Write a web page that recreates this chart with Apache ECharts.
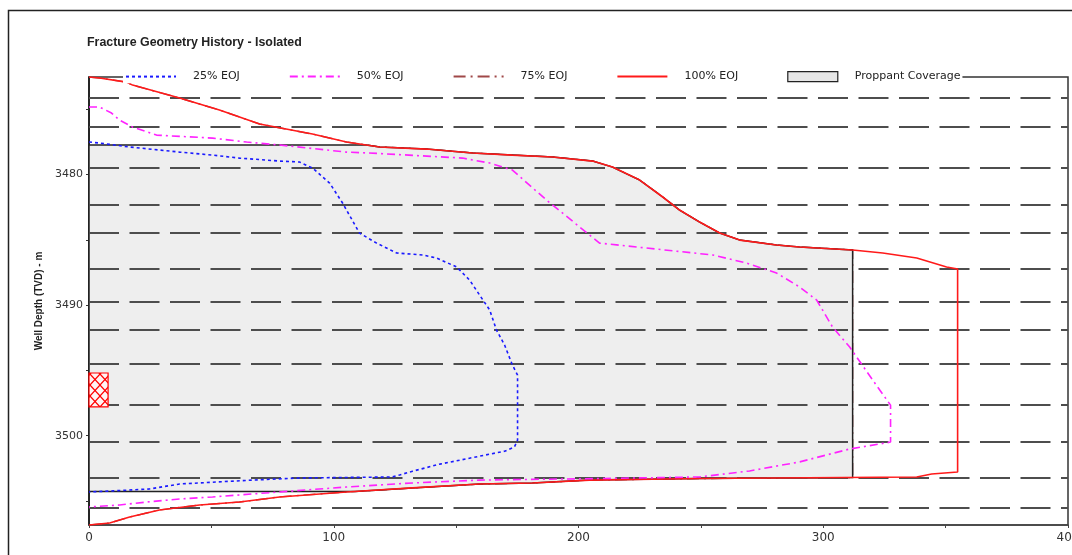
<!DOCTYPE html>
<html>
<head>
<meta charset="utf-8">
<script src="https://cdn.jsdelivr.net/npm/echarts@6/dist/echarts.min.js"></script>
<style>
  html, body { margin: 0; padding: 0; background: #fff; }
  #chart { width: 1072px; height: 555px; }
</style>
</head>
<body>
<div id="chart"></div>
<script>
// Fracture half-length (m) against true vertical depth (m) at fractions of end of job.
const eoj25 = [
  [0, 3477.51], [4.3, 3477.59], [16.6, 3477.89], [37.0, 3478.28], [50.5, 3478.51],
  [61.5, 3478.74], [77.9, 3478.97], [86.0, 3479.04], [91.3, 3479.50], [98.3, 3480.65],
  [103.6, 3482.18], [110.5, 3484.48], [117.5, 3485.25], [125.7, 3486.01], [136.3, 3486.16],
  [142.0, 3486.39], [150.2, 3487.08], [155.5, 3488.08], [159.6, 3489.23], [163.7, 3490.37],
  [166.5, 3491.91], [169.8, 3493.06], [173.0, 3494.59], [175.1, 3495.36], [175.1, 3500.34],
  [173.8, 3500.87], [169.8, 3501.19], [159.6, 3501.57], [143.3, 3502.18], [132.2, 3502.72],
  [126.9, 3503.01], [124.0, 3503.16], [86.0, 3503.24], [66.8, 3503.40], [37.0, 3503.70],
  [24.7, 3504.08], [9.6, 3504.23], [0, 3504.31]
];

const eoj50 = [
  [0, 3474.83], [4.3, 3474.83], [9.2, 3475.29], [12.5, 3475.83], [17.8, 3476.36],
  [27.6, 3476.98], [50.5, 3477.21], [64.4, 3477.51], [77.9, 3477.74], [105.2, 3478.28],
  [118.7, 3478.39], [152.6, 3478.74], [163.7, 3479.12], [173.0, 3479.66], [186.9, 3481.95],
  [200.5, 3484.02], [208.6, 3485.25], [227.8, 3485.63], [254.8, 3486.16], [268.7, 3486.78],
  [280.9, 3487.54], [290.3, 3488.61], [297.3, 3489.61], [303.8, 3491.68], [310.8, 3493.21],
  [320.2, 3495.74], [327.5, 3497.66], [327.5, 3500.49], [310.8, 3501.02], [290.3, 3502.01],
  [269.9, 3502.70], [249.5, 3503.16], [208.6, 3503.28], [159.6, 3503.40], [132.2, 3503.62],
  [105.2, 3503.93], [77.9, 3504.31], [50.5, 3504.69], [37.0, 3504.85], [23.5, 3505.08],
  [12.5, 3505.31], [0, 3505.46]
];

const eoj75 = [
  [0, 3472.53], [4.3, 3472.61], [15.3, 3472.92], [17.8, 3473.15], [37.0, 3474.14],
  [53.3, 3475.06], [69.7, 3476.13], [91.3, 3476.90], [105.2, 3477.51], [118.7, 3477.89],
  [137.9, 3478.05], [156.7, 3478.35], [173.0, 3478.51], [189.4, 3478.66], [205.8, 3478.97],
  [213.9, 3479.43], [225.0, 3480.42], [234.4, 3481.72], [241.3, 3482.72], [249.5, 3483.64],
  [257.7, 3484.48], [265.9, 3485.02], [280.9, 3485.40], [290.3, 3485.55], [312.0, 3485.78],
  [312.0, 3503.20], [249.5, 3503.28], [204.5, 3503.40], [181.2, 3503.62], [159.6, 3503.70],
  [132.2, 3504.00], [105.2, 3504.31], [77.9, 3504.69], [61.5, 3505.08], [45.2, 3505.31],
  [28.8, 3505.69], [16.6, 3506.23], [8.4, 3506.69], [0, 3506.84]
];

const eoj100 = [
  [0, 3472.53], [4.3, 3472.61], [15.3, 3472.92], [17.8, 3473.15], [37.0, 3474.14],
  [53.3, 3475.06], [69.7, 3476.13], [91.3, 3476.90], [105.2, 3477.51], [118.7, 3477.89],
  [137.9, 3478.05], [156.7, 3478.35], [173.0, 3478.51], [189.4, 3478.66], [205.8, 3478.97],
  [213.9, 3479.43], [225.0, 3480.42], [234.4, 3481.72], [241.3, 3482.72], [249.5, 3483.64],
  [257.7, 3484.48], [265.9, 3485.02], [280.9, 3485.40], [290.3, 3485.55], [312.0, 3485.78],
  [324.3, 3486.01], [338.2, 3486.39], [350.4, 3487.08], [354.9, 3487.24], [354.9, 3502.78],
  [344.3, 3502.93], [338.2, 3503.16], [249.5, 3503.28], [204.5, 3503.40], [181.2, 3503.62],
  [159.6, 3503.70], [132.2, 3504.00], [105.2, 3504.31], [77.9, 3504.69], [61.5, 3505.08],
  [45.2, 3505.31], [28.8, 3505.69], [16.6, 3506.23], [8.4, 3506.69], [0, 3506.84]
];

// Propped part of the final fracture: limited in length and depth interval.
const proppantLength = 312.0;
const proppantTop = 3477.74;
const proppantBottom = 3504.27;

// Perforated interval.
const perfTop = 3495.2;
const perfBottom = 3497.8;
const perfWidth = 7.8;

// Layer boundaries (depth, m).
const layerBoundaries = [
  3474.14, 3476.36, 3479.50, 3482.34, 3484.44, 3487.20, 3489.72,
  3491.87, 3494.51, 3497.61, 3500.48, 3503.20, 3505.54
];

const xTickValues = [0, 50, 100, 150, 200, 250, 300, 350, 400];
const xLabelValues = [0, 100, 200, 300, 400];
const yTickValues = [3475, 3480, 3485, 3490, 3495, 3500, 3505];
const yLabelValues = [3480, 3490, 3500];
const depthMin = 3472.53;
const depthMax = 3506.84;

// Clip the 100% EOJ outline (closed along the wellbore) to the propped box.
function clipPolygon(poly, inside, cross) {
  const out = [];
  for (let i = 0; i < poly.length; i++) {
    const cur = poly[i];
    const prev = poly[(i + poly.length - 1) % poly.length];
    const cIn = inside(cur), pIn = inside(prev);
    if (cIn) {
      if (!pIn) out.push(cross(prev, cur));
      out.push(cur);
    } else if (pIn) {
      out.push(cross(prev, cur));
    }
  }
  return out;
}
function crossX(x) {
  return (a, b) => { const t = (x - a[0]) / (b[0] - a[0]); return [x, a[1] + t * (b[1] - a[1])]; };
}
function crossY(y) {
  return (a, b) => { const t = (y - a[1]) / (b[1] - a[1]); return [a[0] + t * (b[0] - a[0]), y]; };
}
let proppantPoly = eoj100.slice();
proppantPoly = clipPolygon(proppantPoly, p => p[0] <= proppantLength, crossX(proppantLength));
proppantPoly = clipPolygon(proppantPoly, p => p[1] >= proppantTop, crossY(proppantTop));
proppantPoly = clipPolygon(proppantPoly, p => p[1] <= proppantBottom, crossY(proppantBottom));

// Red cross-hatch for the perforation marker.
function hatchPattern() {
  const c = document.createElement('canvas');
  c.width = 10; c.height = 11;
  const g = c.getContext('2d');
  g.fillStyle = '#fff4f4';
  g.fillRect(0, 0, 10, 11);
  g.strokeStyle = '#ff0000';
  g.lineWidth = 1.2;
  g.beginPath();
  g.moveTo(0, 0); g.lineTo(10, 11);
  g.moveTo(10, 0); g.lineTo(0, 11);
  g.stroke();
  return c;
}
const hatch = hatchPattern();

const chart = echarts.init(document.getElementById('chart'), null, { renderer: 'canvas' });

const lineSeries = (name, data, color, type, width, z) => ({
  name, type: 'line', data, z,
  symbol: 'none', showSymbol: false, smooth: false,
  lineStyle: { color, type, width },
  itemStyle: { color },
  emphasis: { disabled: true },
  silent: true
});

// Legend entries for the profiles show only the line pattern.
const lineLegend = name => ({ name, itemStyle: { color: 'rgba(0,0,0,0)', borderWidth: 0 } });

chart.setOption({
  animation: false,
  backgroundColor: '#ffffff',
  title: {
    text: 'Fracture Geometry History - Isolated',
    left: 82, top: 32,
    textStyle: { fontFamily: 'Liberation Sans', fontSize: 12.4, fontWeight: 'bold', color: '#222' }
  },
  legend: {
    left: 123, top: 70,
    itemWidth: 50, itemHeight: 10, itemGap: 49,
    padding: [1, 2],
    backgroundColor: '#ffffff',
    selectedMode: false,
    textStyle: { fontFamily: 'DejaVu Sans', fontSize: 11, color: '#222', padding: [0, 0, 0, 12] },
    data: [
      lineLegend('25% EOJ'),
      lineLegend('50% EOJ'),
      lineLegend('75% EOJ'),
      lineLegend('100% EOJ'),
      { name: 'Proppant Coverage', icon: 'rect',
        itemStyle: { color: '#e6e6e6', borderColor: '#222', borderWidth: 1.2 } }
    ]
  },
  grid: {
    left: 89, top: 77, right: 4, bottom: 30,
    outerBoundsMode: 'none', containLabel: false,
    show: true, borderColor: '#333', borderWidth: 1.5, backgroundColor: 'transparent'
  },
  xAxis: {
    type: 'value', min: 0, max: 400,
    axisLine: { show: true, lineStyle: { color: '#444', width: 1.5 } },
    axisTick: { show: true, customValues: xTickValues, length: 3, lineStyle: { color: '#444' } },
    axisLabel: { customValues: xLabelValues, formatter: v => String(v), fontFamily: 'DejaVu Sans', fontSize: 12, color: '#333', margin: 7, hideOverlap: false },
    splitLine: { show: false }
  },
  yAxis: {
    type: 'value', inverse: true, min: depthMin, max: depthMax,
    name: 'Well Depth (TVD) - m',
    nameLocation: 'middle', nameGap: 45, nameRotate: 90,
    nameTextStyle: { fontFamily: 'Liberation Sans', fontSize: 10, fontWeight: 'bold', color: '#222' },
    axisLine: { show: true, lineStyle: { color: '#111', width: 1.5 } },
    axisTick: { show: true, customValues: yTickValues, length: 3, lineStyle: { color: '#333' } },
    axisLabel: { customValues: yLabelValues, formatter: v => String(v), fontFamily: 'DejaVu Sans', fontSize: 11, color: '#333', margin: 6 },
    splitLine: { show: false }
  },
  graphic: [{
    type: 'rect', silent: true,
    shape: { x: 8.5, y: 10.5, width: 1100, height: 600 },
    style: { fill: 'none', stroke: '#222', lineWidth: 1.5 }
  }],
  series: [
    lineSeries('75% EOJ', eoj75, '#a04848', [12, 5, 2, 5], 1.4, 0.5),
    {
      name: 'Proppant Coverage', type: 'custom', z: 1, silent: true,
      data: [[0, proppantTop]],
      encode: { x: 0, y: 1 },
      itemStyle: { color: '#e6e6e6', borderColor: '#222', borderWidth: 1.2 },
      renderItem: (params, api) => ({
        type: 'polygon',
        shape: { points: proppantPoly.map(p => api.coord(p)) },
        style: { fill: '#eeeeee', stroke: '#222', lineWidth: 1.5 }
      }),
      markLine: {
        silent: true, z: 2,
        symbol: ['none', 'none'],
        label: { show: false },
        emphasis: { disabled: true },
        lineStyle: { color: '#4d4d4d', type: [30, 10.5], width: 2 },
        data: layerBoundaries.map(d => ({ yAxis: d }))
      }
    },
    {
      name: 'Perforations', type: 'custom', z: 6, silent: true,
      data: [[perfWidth, perfTop, perfBottom]],
      encode: { x: 0, y: [1, 2] },
      renderItem: (params, api) => {
        const a = api.coord([0, api.value(1)]);
        const b = api.coord([api.value(0), api.value(2)]);
        return {
          type: 'rect',
          shape: { x: a[0], y: a[1], width: b[0] - a[0], height: b[1] - a[1] },
          style: { fill: { image: hatch, repeat: 'repeat' }, stroke: '#ff0000', lineWidth: 1.2 }
        };
      }
    },
    lineSeries('25% EOJ', eoj25, '#1a1aff', [3, 3], 1.6, 5),
    lineSeries('50% EOJ', eoj50, '#ff22ff', [8, 4, 2, 4], 1.6, 4),
    lineSeries('100% EOJ', eoj100, '#ff1a1a', 'solid', 1.6, 3)
  ]
});
</script>
</body>
</html>
